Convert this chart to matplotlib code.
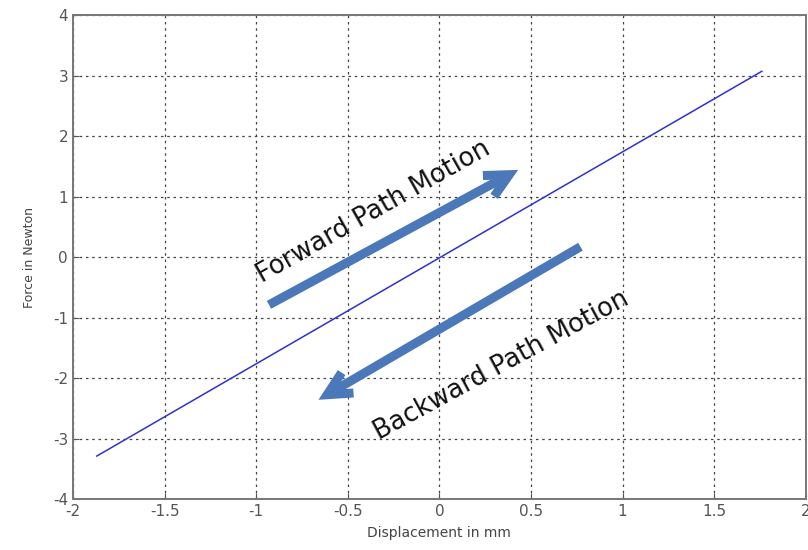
import matplotlib
matplotlib.use("Agg")
import matplotlib.pyplot as plt

# force-displacement characteristic
displacement = [-1.87, 1.76]
force = [-3.29, 3.07]

x_ticks = [-2, -1.5, -1, -0.5, 0, 0.5, 1, 1.5, 2]
x_tick_labels = ["-2", "-1.5", "-1", "-0.5", "0", "0.5", "1", "1.5", "2"]
y_ticks = [-4, -3, -2, -1, 0, 1, 2, 3, 4]
y_tick_labels = ["-4", "-3", "-2", "-1", "0", "1", "2", "3", "4"]

# direction arrows: (start, end) in data units
forward_arrow = ((-0.93, -0.79), (0.43, 1.44))
backward_arrow = ((0.77, 0.17), (-0.66, -2.36))

fig = plt.figure(figsize=(8.08, 5.50), dpi=100)
ax = fig.add_axes([0.0903, 0.0927, 0.907, 0.88])

ax.plot(displacement, force, color="#3030d0", lw=1.1)

arrow_color = "#4a78b8"
for (start, end) in (forward_arrow, backward_arrow):
    ax.annotate("", xy=end, xytext=start,
                arrowprops=dict(arrowstyle="->,head_length=1.7,head_width=0.85",
                                color=arrow_color, lw=6.5, shrinkA=0, shrinkB=0,
                                capstyle="butt", joinstyle="miter"))

ax.text(-0.36, 0.74, "Forward Path Motion", rotation=29.5, rotation_mode="anchor",
        ha="center", va="center", fontsize=18.5, color="#111111",
        family="DejaVu Sans")
ax.text(0.34, -1.80, "Backward Path Motion", rotation=28.5, rotation_mode="anchor",
        ha="center", va="center", fontsize=18.5, color="#111111",
        family="DejaVu Sans")

ax.set_xlim(-2, 2)
ax.set_ylim(-4, 4)
ax.set_xticks(x_ticks)
ax.set_xticklabels(x_tick_labels)
ax.set_yticks(y_ticks)
ax.set_yticklabels(y_tick_labels)
ax.tick_params(direction="in", length=4, colors="#555555", labelsize=11,
               labelcolor="#555555", top=False, right=False)
ax.grid(True, color="#444444", linestyle=(0, (2, 3)), linewidth=0.9)
for s in ax.spines.values():
    s.set_color("#777777")
    s.set_linewidth(1.4)

ax.set_xlabel("Displacement in mm", fontsize=10, color="#444444", labelpad=5)
ax.set_ylabel("Force in Newton", fontsize=9, color="#444444", labelpad=12)

fig.savefig("out.png", dpi=100)
